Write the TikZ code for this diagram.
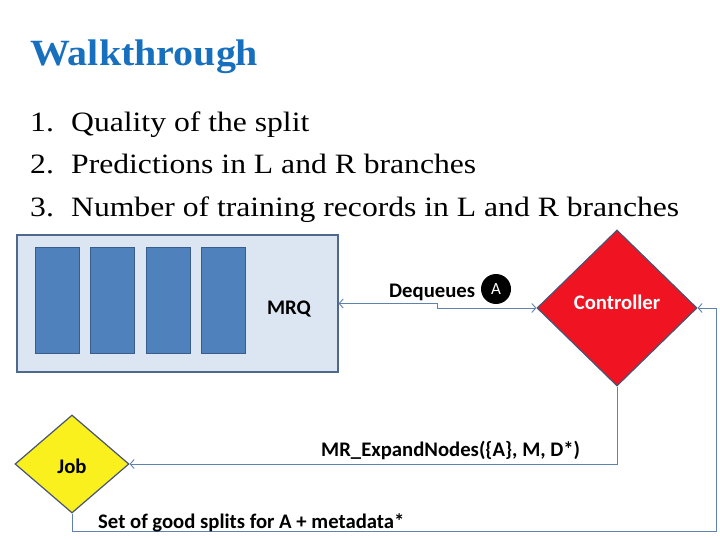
\documentclass[tikz,border=0pt]{standalone}
\usepackage{fontspec}
\setmainfont{Liberation Serif}
\newfontfamily\labfont{Carlito}
\newfontfamily\titlefont[FakeStretch=1.08]{Liberation Serif}
\newfontfamily\listfont[FakeStretch=1.13]{Liberation Serif}
\usetikzlibrary{arrows.meta,shapes.geometric}
\definecolor{titleblue}{RGB}{23,112,190}
\definecolor{qfill}{RGB}{220,230,242}
\definecolor{qdraw}{RGB}{79,105,140}
\definecolor{barfill}{RGB}{79,129,189}
\definecolor{bardraw}{RGB}{56,93,138}
\definecolor{ctrlred}{RGB}{240,20,35}
\definecolor{jobyellow}{RGB}{250,240,30}
\definecolor{shapeedge}{RGB}{70,85,115}
\definecolor{linkblue}{RGB}{95,130,175}
\begin{document}
\begin{tikzpicture}[x=1pt,y=-1pt,
  conn/.style={draw=linkblue, line width=0.9pt},
  barb/.tip={Straight Barb[length=4pt,width=9pt]},
  lbl/.style={font=\labfont\bfseries\fontsize{20.7}{24}\selectfont, inner sep=0},
  bar/.style={draw=bardraw, fill=barfill, line width=1pt, minimum width=44, minimum height=106, inner sep=0, anchor=north west},
  dia/.style={diamond, draw=shapeedge, line width=1.2pt, inner sep=0},
  listitem/.style={font=\listfont\fontsize{28}{30}\selectfont, anchor=base west, inner sep=0}
]
\useasboundingbox (0,0) rectangle (720,540);
\fill[white] (0,0) rectangle (720,540);

\node[font=\titlefont\bfseries\fontsize{37}{40}\selectfont, text=titleblue, anchor=base west, inner sep=0] (title) at (30,66) {Walkthrough};
\node[listitem] (item1) at (30,132) {\makebox[41pt][l]{1.}Quality of the split};
\node[listitem] (item2) at (30,174) {\makebox[41pt][l]{2.}Predictions in L and R branches};
\node[listitem] (item3) at (30,217) {\makebox[41pt][l]{3.}Number of training records in L and R branches};

\node[draw=qdraw, fill=qfill, line width=1.2pt, minimum width=321, minimum height=137, inner sep=0] (mrq) at (177.5,303.5) {};
\node[bar] (bar1) at (35,247) {};
\node[bar] (bar2) at (90,247) {};
\node[bar] (bar3) at (146,247) {};
\node[bar] (bar4) at (201,247) {};
\node[lbl] (mrqlabel) at (289,309) {MRQ};

\node[dia, fill=ctrlred, minimum width=160, minimum height=156] (ctrl) at (617,308) {};
\node[lbl, text=white] (ctrllabel) at (617,302) {Controller};

\node[dia, fill=jobyellow, minimum width=114, minimum height=98] (job) at (72,464) {};
\node[lbl] (joblabel) at (72,466) {Job};

\draw[conn, barb-barb] (mrq.east) -- ++(99,0) |- (ctrl.west);
\node[lbl, anchor=base west] (deq) at (389,297) {Dequeues};
\node[circle, fill=black, minimum size=30, inner sep=0, text=white, font=\labfont\fontsize{17}{18}\selectfont] (A) at (496,289) {A};

\coordinate (cr) at (716,531);
\draw[conn, -barb] (job.south) |- (cr) |- (ctrl.east);
\draw[conn, -barb] (ctrl.south) |- (job.east);

\node[lbl, anchor=base west] (expand) at (321,456) {MR\_ExpandNodes(\{A\}, M, D*)};
\node[lbl, anchor=base west] (splits) at (98,528) {Set of good splits for A + metadata*};
\end{tikzpicture}
\end{document}
